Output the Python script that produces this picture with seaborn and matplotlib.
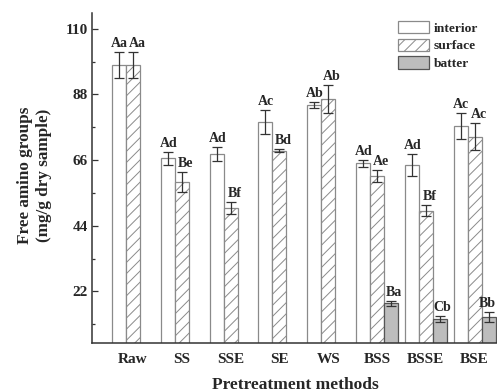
import numpy as np
import pandas as pd
import matplotlib
matplotlib.use("Agg")
import matplotlib.pyplot as plt
from matplotlib.patches import Patch
import seaborn as sns

categories = ["Raw", "SS", "SSE", "SE", "WS", "BSS", "BSSE", "BSE"]
series = ["interior", "surface", "batter"]

interior = [97.9, 66.6, 68.0, 78.7, 84.4, 64.9, 64.4, 77.5]
interior_err = [4.3, 2.1, 2.4, 4.1, 1.0, 1.1, 3.6, 4.4]
interior_lbl = ["Aa", "Ad", "Ad", "Ac", "Ab", "Ad", "Ad", "Ac"]

surface = [97.9, 58.6, 49.9, 69.1, 86.5, 60.7, 49.1, 73.9]
surface_err = [4.3, 3.3, 2.0, 0.5, 4.7, 2.0, 1.9, 4.5]
surface_lbl = ["Aa", "Be", "Bf", "Bd", "Ab", "Ae", "Bf", "Ac"]

batter_cats = ["BSS", "BSSE", "BSE"]
batter = [18.0, 12.7, 13.4]
batter_err = [0.9, 0.9, 1.6]
batter_lbl = ["Ba", "Cb", "Bb"]

y_ticks = [22, 44, 66, 88, 110]

sns.set_theme(style="ticks")
plt.rcParams["font.family"] = ["Liberation Serif", "DejaVu Serif"]
plt.rcParams["font.weight"] = "bold"
plt.rcParams["hatch.color"] = "#555555"
plt.rcParams["hatch.linewidth"] = 0.7

df = pd.concat([
    pd.DataFrame({"method": categories, "part": "interior", "value": interior}),
    pd.DataFrame({"method": categories, "part": "surface", "value": surface}),
    pd.DataFrame({"method": batter_cats, "part": "batter", "value": batter}),
], ignore_index=True)

W, H = 497, 392
fig = plt.figure(figsize=(W / 100, H / 100), dpi=100)
ax = fig.add_axes([92 / W, (H - 343) / H, (W - 92) / W, (343 - 13) / H])

face = {"interior": "white", "surface": "white", "batter": "#bdbdbd"}
sns.barplot(data=df, x="method", y="value", hue="part", order=categories,
            hue_order=series, palette=face, errorbar=None, width=0.86,
            edgecolor="#8a8a8a", linewidth=0.9, legend=False, ax=ax)

errs = [interior_err, surface_err, batter_err]
lbls = [interior_lbl, surface_lbl, batter_lbl]
dx = [[0.5] * 8, [2.8] * 8, [1.8, 1.8, -1.0]]
bar_containers = list(ax.containers)
for i, cont in enumerate(bar_containers):
    for j, bar in enumerate(cont.patches):
        if i == 1:
            bar.set_hatch("///")
        if i == 2:
            bar.set_edgecolor("#555555")
        x = bar.get_x() + bar.get_width() / 2
        h = bar.get_height()
        e = errs[i][j]
        ax.errorbar(x, h, yerr=e, fmt="none", ecolor="#333333",
                    elinewidth=0.9, capsize=3.6, capthick=0.9, zorder=5)
        ax.annotate(lbls[i][j], (x, h + e), xytext=(dx[i][j], 1.5),
                    textcoords="offset points", ha="center", va="bottom",
                    fontsize=10, fontweight="bold", annotation_clip=False)

ax.set_xlim(-0.84, 7.46)
ax.set_ylim(4.7, 115.3)
ax.set_yticks(y_ticks)
ax.set_yticks([11, 33, 55, 77, 99], minor=True)
ax.tick_params(axis="y", which="major", direction="in", length=4.5,
               width=0.9, labelsize=11, pad=3, color="#333333")
ax.tick_params(axis="y", which="minor", direction="in", length=2.5,
               width=0.9, color="#333333")
ax.tick_params(axis="x", length=0, labelsize=11, pad=7)
for lab in ax.get_xticklabels() + ax.get_yticklabels():
    lab.set_fontweight("bold")
ax.spines["top"].set_visible(False)
ax.spines["right"].set_visible(False)
ax.spines["left"].set_color("#333333")
ax.spines["bottom"].set_color("#333333")
ax.spines["left"].set_linewidth(1.1)
ax.spines["bottom"].set_linewidth(1.1)

ax.set_xlabel("Pretreatment methods", fontsize=12.5, fontweight="bold")
ax.xaxis.set_label_coords((295 - 92) / 405, (343 - 385) / 330)
ax.xaxis.label.set_va("center")
ax.set_ylabel("Free amino groups\n(mg/g dry sample)", fontsize=12.3,
              fontweight="bold", linespacing=1.3)
ax.yaxis.label.set_va("center")
ax.yaxis.set_label_coords((34.5 - 92) / 405, (343 - 175) / 330)

handles = [Patch(facecolor="white", edgecolor="#8a8a8a", linewidth=0.9),
           Patch(facecolor="white", edgecolor="#8a8a8a", linewidth=0.9, hatch="///"),
           Patch(facecolor="#bdbdbd", edgecolor="#555555", linewidth=0.9)]
fig.legend(handles, series, loc="upper left",
           bbox_to_anchor=(397.7 / W, 1 - 21 / H), frameon=False,
           borderpad=0, borderaxespad=0, handlelength=2.3, handleheight=1.05,
           labelspacing=0.28, handletextpad=0.4,
           prop={"family": "Liberation Serif", "weight": "bold", "size": 9.7})

fig.savefig("out.png", dpi=100)
